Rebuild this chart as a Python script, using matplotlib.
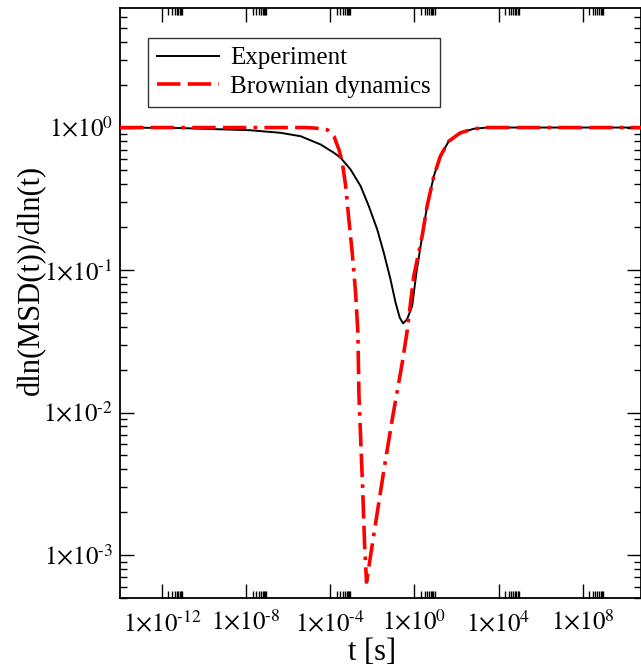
import numpy as np
import matplotlib.pyplot as plt
from matplotlib.ticker import FixedLocator, FuncFormatter, NullFormatter

plt.rcParams['font.family'] = ['Liberation Serif', 'DejaVu Serif']
plt.rcParams['mathtext.fontset'] = 'stix'

# log10(t) and log10(dln MSD / dln t) for the measured curve
exp_logt = [-14.0, -11.0, -7.8, -6.36, -5.41, -4.46, -3.83, -3.51, -3.04, -2.56,
            -2.17, -1.77, -1.46, -1.14, -0.90, -0.70, -0.54, -0.35, -0.11, 0.10,
            0.365, 0.60, 0.92, 1.23, 1.63, 2.18, 2.81, 3.45, 10.8]
exp_logy = [0.0, -0.004, -0.019, -0.037, -0.061, -0.119, -0.177, -0.212, -0.294, -0.411,
            -0.552, -0.715, -0.878, -1.065, -1.228, -1.334, -1.374, -1.345, -1.252, -1.01,
            -0.762, -0.552, -0.341, -0.201, -0.096, -0.037, -0.009, 0.0, 0.0]

# same quantity from the Brownian dynamics run
bd_logt = [-14.0, -5.2, -4.7, -4.14, -3.83, -3.59, -3.43, -3.27, -3.12, -2.96, -2.80,
           -2.69, -2.64, -2.48, -2.37, -2.28, -2.01, -1.45, -1.06, -0.58, -0.35,
           -0.03, 0.365, 0.60, 0.92, 1.23, 1.63, 2.18, 2.81, 3.45, 10.8]
bd_logy = [0.0, 0.0, -0.004, -0.016, -0.061, -0.154, -0.247, -0.411, -0.645, -0.878, -1.158,
           -1.439, -1.88, -2.467, -2.93, -3.19, -2.93, -2.40, -2.05, -1.65, -1.43,
           -1.04, -0.762, -0.552, -0.341, -0.201, -0.096, -0.037, -0.009, 0.0, 0.0]

t_exp = 10.0 ** np.array(exp_logt)
y_exp = 10.0 ** np.array(exp_logy)
t_bd = 10.0 ** np.array(bd_logt)
y_bd = 10.0 ** np.array(bd_logy)

x_major = [1e-12, 1e-8, 1e-4, 1e0, 1e4, 1e8]
y_major = [1e-3, 1e-2, 1e-1, 1e0]


def sci_label(v, pos):
    # "1x10^n" with a plain hyphen for negative exponents
    n = round(np.log10(v))
    exp = r'\text{-}%d' % -n if n < 0 else '%d' % n
    return r'$1{\times}10^{%s}$' % exp


fig = plt.figure(figsize=(6.41, 6.71), dpi=100)
ax = fig.add_axes([120 / 641, 73 / 671, 521 / 641, 590 / 671])

ax.plot(t_exp, y_exp, color='black', lw=1.4, label='Experiment', zorder=2)
ax.plot(t_bd, y_bd, color='red', lw=2.6, dashes=(6.5, 2, 6.5, 2, 1, 2),
        label='Brownian dynamics', zorder=3)

ax.set_xscale('log')
ax.set_yscale('log')
ax.set_xlim(1e-14, 10 ** 10.77)
ax.set_ylim(5e-4, 6.9)

# minor ticks at 2..9 times each major, as in the original plotting program
ax.xaxis.set_major_locator(FixedLocator(x_major))
ax.xaxis.set_minor_locator(FixedLocator([k * m for m in x_major + [1e-16] for k in range(2, 10)]))
ax.yaxis.set_major_locator(FixedLocator(y_major))
ax.yaxis.set_minor_locator(FixedLocator([k * m for m in [1e-4] + y_major for k in range(2, 10)]))

ax.xaxis.set_major_formatter(FuncFormatter(sci_label))
ax.yaxis.set_major_formatter(FuncFormatter(sci_label))
ax.xaxis.set_minor_formatter(NullFormatter())
ax.yaxis.set_minor_formatter(NullFormatter())

ax.tick_params(which='both', direction='in', top=True, right=True, width=1.0,
               labelsize=18)
ax.tick_params(which='major', length=10)
ax.tick_params(which='minor', length=5)
ax.tick_params(axis='x', pad=9)
ax.tick_params(axis='y', pad=5)
for s in ax.spines.values():
    s.set_linewidth(1.3)

fig.text(372 / 641, 1 - 652 / 671, 't [s]', fontsize=22, ha='center', va='center')
fig.text(31 / 641, 1 - 280 / 671, 'dln(MSD(t))/dln(t)', fontsize=22,
         ha='center', va='center', rotation=90)

leg = ax.legend(loc='upper left', bbox_to_anchor=(28 / 521, 560 / 590),
                borderaxespad=0, fontsize=18, frameon=True, fancybox=False,
                handlelength=2.5, handletextpad=0.45, borderpad=0.35,
                labelspacing=0.25)
leg.get_frame().set_edgecolor('black')
leg.get_frame().set_linewidth(1.0)

fig.savefig('out.png', dpi=100)
